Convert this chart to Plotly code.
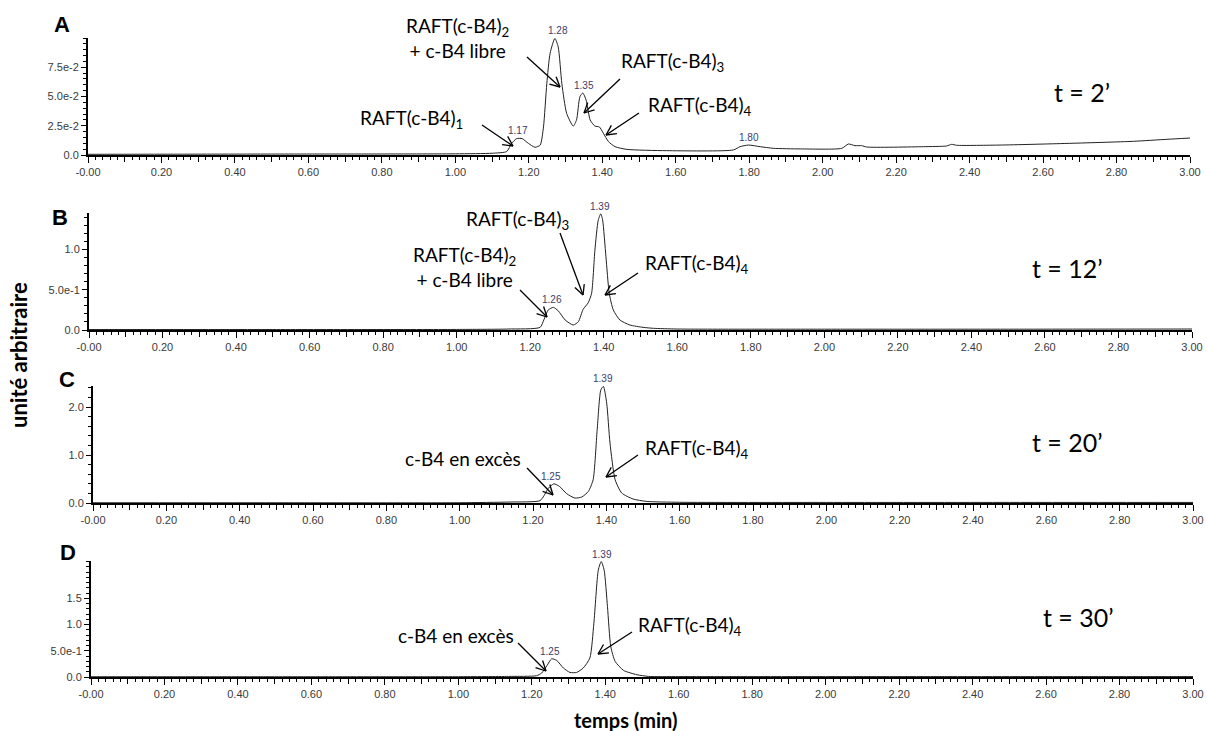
import math
import plotly.graph_objects as go

W, H = 1207, 731

# ---------------- data ----------------
time_A = [0.00, 0.50, 1.00, 1.10, 1.14, 1.153, 1.167, 1.182, 1.199, 1.217, 1.231, 1.24, 1.249,
          1.258, 1.271, 1.28, 1.29, 1.303, 1.321, 1.33, 1.339, 1.347, 1.356, 1.367, 1.38, 1.392,
          1.403, 1.417, 1.435, 1.467, 1.575, 1.757, 1.775, 1.798, 1.83, 1.866, 1.94, 2.052, 2.07,
          2.088, 2.106, 2.12, 2.274, 2.337, 2.351, 2.365, 2.483, 2.665, 2.846, 2.937, 3.00]
signal_A = [0.0006, 0.0008, 0.0010, 0.0015, 0.003, 0.0099, 0.014, 0.014, 0.0099, 0.0066, 0.0085,
            0.024, 0.061, 0.087, 0.0996, 0.0925, 0.061, 0.0356, 0.0247, 0.030, 0.0497, 0.053,
            0.047, 0.030, 0.0247, 0.024, 0.0186, 0.0114, 0.0071, 0.0048, 0.0037, 0.0043, 0.0071,
            0.0085, 0.0071, 0.0057, 0.0052, 0.0057, 0.0094, 0.008, 0.008, 0.0068, 0.0071, 0.0077,
            0.0091, 0.0083, 0.0085, 0.0099, 0.0117, 0.0134, 0.0145]

time_B = [0.00, 0.50, 1.00, 1.14, 1.227, 1.237, 1.249, 1.263, 1.276, 1.295, 1.317, 1.331, 1.344,
          1.358, 1.367, 1.376, 1.385, 1.392, 1.397, 1.406, 1.415, 1.426, 1.444, 1.471, 1.507,
          1.535, 1.60, 2.00, 2.50, 3.00]
signal_B = [0.006, 0.006, 0.007, 0.012, 0.033, 0.124, 0.248, 0.281, 0.239, 0.124, 0.062, 0.103,
            0.256, 0.339, 0.455, 0.991, 1.36, 1.44, 1.363, 0.908, 0.455, 0.248, 0.124, 0.062,
            0.033, 0.021, 0.012, 0.010, 0.010, 0.012]

time_C = [0.00, 0.50, 1.00, 1.137, 1.219, 1.230, 1.242, 1.257, 1.272, 1.292, 1.314, 1.333, 1.351,
          1.364, 1.375, 1.385, 1.392, 1.401, 1.41, 1.424, 1.442, 1.473, 1.51, 1.60, 2.00, 2.50, 3.00]
signal_C = [0.005, 0.005, 0.006, 0.02, 0.048, 0.152, 0.31, 0.40, 0.347, 0.194, 0.104, 0.125,
            0.242, 0.485, 1.527, 2.36, 2.43, 2.083, 1.25, 0.485, 0.208, 0.083, 0.033, 0.015,
            0.012, 0.012, 0.012]

time_D = [0.00, 0.50, 1.00, 1.136, 1.213, 1.227, 1.241, 1.254, 1.268, 1.286, 1.304, 1.322, 1.34,
          1.358, 1.369, 1.381, 1.389, 1.397, 1.406, 1.415, 1.427, 1.45, 1.486, 1.518, 1.60, 2.00,
          2.50, 3.00]
signal_D = [0.005, 0.005, 0.006, 0.011, 0.025, 0.076, 0.214, 0.347, 0.315, 0.171, 0.087, 0.087,
            0.171, 0.36, 1.025, 2.036, 2.2, 2.036, 1.34, 0.58, 0.296, 0.125, 0.044, 0.011, 0.008,
            0.008, 0.008, 0.008]

# peak retention-time labels
peak_t_A = [1.17, 1.28, 1.35, 1.80]
peak_h_A = [0.0145, 0.0996, 0.053, 0.0085]
peak_t_B = [1.26, 1.39]
peak_h_B = [0.281, 1.44]
peak_t_C = [1.25, 1.39]
peak_h_C = [0.40, 2.43]
peak_t_D = [1.25, 1.39]
peak_h_D = [0.347, 2.2]

# axis ticks
x_label_ticks = [round(0.2 * k, 1) for k in range(16)]
x_label_text = ["-0.00" if k == 0 else f"{0.2 * k:.2f}" for k in range(16)]
x_mid_ticks = [round(0.1 + 0.2 * k, 1) for k in range(15)]

y_ticks_A = [0.0, 0.025, 0.05, 0.075]
y_text_A = ["0.0", "2.5e-2", "5.0e-2", "7.5e-2"]
y_ticks_B = [0.0, 0.5, 1.0]
y_text_B = ["0.0", "5.0e-1", "1.0"]
y_ticks_C = [0.0, 1.0, 2.0]
y_text_C = ["0.0", "1.0", "2.0"]
y_ticks_D = [0.0, 0.5, 1.0, 1.5]
y_text_D = ["0.0", "5.0e-1", "1.0", "1.5"]

y_range = [0.1, 1.45, 2.44, 2.21]
y_minor = [0.005, 0.1, 0.2, 0.1]

panel_letters = ["A", "B", "C", "D"]
time_labels = ["t = 2’", "t = 12’", "t = 20’", "t = 30’"]

# ---------------- layout geometry (pixels) ----------------
x_dom_px = [(88, 1190), (89, 1192), (93, 1193), (91, 1193)]
y_dom_px = [(38, 155), (213, 330), (386, 503), (561, 677)]


def px(x):
    return x / W


def py(y):
    return 1 - y / H


times = [time_A, time_B, time_C, time_D]
signals = [signal_A, signal_B, signal_C, signal_D]
yt = [y_ticks_A, y_ticks_B, y_ticks_C, y_ticks_D]
ytt = [y_text_A, y_text_B, y_text_C, y_text_D]
peaks = [(peak_t_A, peak_h_A), (peak_t_B, peak_h_B), (peak_t_C, peak_h_C), (peak_t_D, peak_h_D)]

fig = go.Figure()
tick_font = dict(family="Liberation Sans, Arial, sans-serif", size=11, color="#3a3a3a")
layout = dict(width=W, height=H, margin=dict(l=0, r=0, t=0, b=0, autoexpand=False),
              paper_bgcolor="white", plot_bgcolor="white", showlegend=False)

annotations = []
shapes = []
for i in range(4):
    sfx = "" if i == 0 else str(i + 1)
    mid_sfx = str(i + 5)
    fig.add_trace(go.Scatter(x=times[i], y=signals[i], mode="lines",
                             line=dict(color="#222222", width=1, shape="spline", smoothing=0.6),
                             xaxis="x" + sfx, yaxis="y" + sfx, hoverinfo="skip"))
    x0, x1 = x_dom_px[i]
    y0, y1 = y_dom_px[i]
    layout["xaxis" + sfx] = dict(
        domain=[px(x0), px(x1)], range=[0, 3.0], anchor="y" + sfx, automargin=False,
        tickmode="array", tickvals=x_label_ticks, ticktext=x_label_text,
        ticks="outside", ticklen=6, tickwidth=1, tickcolor="black",
        minor=dict(tickmode="linear", tick0=0, dtick=0.02, ticks="outside", ticklen=3,
                   tickwidth=1, tickcolor="black", showgrid=False),
        showline=True, linewidth=2, linecolor="black", showgrid=False, zeroline=False,
        tickfont=tick_font, fixedrange=True)
    # overlay axis carrying the unlabeled 0.1 ticks
    layout["xaxis" + mid_sfx] = dict(
        domain=[px(x0), px(x1)], range=[0, 3.0], anchor="y" + sfx, overlaying="x" + sfx,
        automargin=False, tickmode="array", tickvals=x_mid_ticks, showticklabels=False,
        ticks="outside", ticklen=6, tickwidth=1, tickcolor="black",
        showline=False, showgrid=False, zeroline=False, fixedrange=True)
    layout["yaxis" + sfx] = dict(
        domain=[py(y1), py(y0)], range=[0, y_range[i]], anchor="x" + sfx, automargin=False,
        tickmode="array", tickvals=yt[i], ticktext=ytt[i],
        ticks="outside", ticklen=5, tickwidth=1, tickcolor="black",
        minor=dict(tickmode="linear", tick0=0, dtick=y_minor[i], ticks="outside", ticklen=3,
                   tickwidth=1, tickcolor="black", showgrid=False),
        showline=True, linewidth=2, linecolor="black", showgrid=False, zeroline=False,
        tickfont=tick_font, fixedrange=True)
    # invisible trace so the overlay tick axis is drawn
    fig.add_trace(go.Scatter(x=[0, 3.0], y=[0, 0], mode="lines", line=dict(width=0),
                             opacity=0, xaxis="x" + mid_sfx, yaxis="y" + sfx, hoverinfo="skip"))
    # peak labels
    for t, h in zip(*peaks[i]):
        annotations.append(dict(x=t, y=h, xref="x" + sfx, yref="y" + sfx, text=f"{t:.2f}",
                                showarrow=False, yanchor="bottom", yshift=0,
                                font=dict(family="Liberation Sans, Arial", size=10, color="#3b3b6b")))

label_font = dict(family="Lato, sans-serif", size=19, color="black")
big_font = dict(family="Lato, sans-serif", size=25, color="black")

# panel letters
for (lx, ly), letter in zip([(62, 24), (60, 218), (67, 379), (68, 552)], panel_letters):
    annotations.append(dict(x=px(lx), y=py(ly), xref="paper", yref="paper", text=f"<b>{letter}</b>",
                            showarrow=False, xanchor="center", yanchor="middle",
                            font=dict(family="Liberation Sans, Arial", size=22, color="black")))

# time labels
for (lx, ly), tl in zip([(1082, 92), (1067, 268), (1067, 442), (1078, 617)], time_labels):
    annotations.append(dict(x=px(lx), y=py(ly), xref="paper", yref="paper", text=tl,
                            showarrow=False, xanchor="center", yanchor="middle", font=big_font))

# compound labels
comp_labels = [
    ((411, 119), "RAFT(c-B4)<sub>1</sub>"),
    ((457, 38), "RAFT(c-B4)<sub>2</sub><br>+ c-B4 libre"),
    ((672, 62), "RAFT(c-B4)<sub>3</sub>"),
    ((700, 106), "RAFT(c-B4)<sub>4</sub>"),
    ((517, 220), "RAFT(c-B4)<sub>3</sub>"),
    ((464, 267), "RAFT(c-B4)<sub>2</sub><br>+ c-B4 libre"),
    ((697, 264), "RAFT(c-B4)<sub>4</sub>"),
    ((463, 458), "c-B4 en excès"),
    ((697, 449), "RAFT(c-B4)<sub>4</sub>"),
    ((456, 635), "c-B4 en excès"),
    ((690, 626), "RAFT(c-B4)<sub>4</sub>"),
]
for (lx, ly), txt in comp_labels:
    annotations.append(dict(x=px(lx), y=py(ly), xref="paper", yref="paper", text=txt,
                            showarrow=False, xanchor="center", yanchor="middle", font=label_font))

# arrows (tail -> tip, in pixels), drawn as thin lines with an open V head
arrows = [
    ((482, 125), (513, 146)),
    ((527, 57), (560, 87)),
    ((620, 79), (584, 113)),
    ((639, 113), (606, 135)),
    ((560, 233), (583, 295)),
    ((520, 290), (547, 317)),
    ((638, 273), (605, 295)),
    ((527, 468), (553, 495)),
    ((638, 455), (606, 477)),
    ((518, 643), (546, 671)),
    ((632, 632), (598, 654)),
]
HEAD_LEN = 11
HEAD_ANG = math.radians(27)
line_style = dict(color="black", width=1.3)
for (tx, ty), (hx, hy) in arrows:
    shapes.append(dict(type="line", xref="paper", yref="paper",
                       x0=px(tx), y0=py(ty), x1=px(hx), y1=py(hy), line=line_style))
    ang = math.atan2(hy - ty, hx - tx)
    for s in (1, -1):
        a = ang + math.pi + s * HEAD_ANG
        ex, ey = hx + HEAD_LEN * math.cos(a), hy + HEAD_LEN * math.sin(a)
        shapes.append(dict(type="line", xref="paper", yref="paper",
                           x0=px(hx), y0=py(hy), x1=px(ex), y1=py(ey), line=line_style))

# axis titles
annotations.append(dict(x=px(18), y=py(355), xref="paper", yref="paper",
                        text="<b>unité arbitraire</b>", textangle=-90, showarrow=False,
                        xanchor="center", yanchor="middle",
                        font=dict(family="Lato, sans-serif", size=22, color="black")))
annotations.append(dict(x=px(625), y=py(720), xref="paper", yref="paper",
                        text="<b>temps (min)</b>", showarrow=False,
                        xanchor="center", yanchor="middle",
                        font=dict(family="Lato, sans-serif", size=20, color="black")))

layout["annotations"] = annotations
layout["shapes"] = shapes
fig.update_layout(**layout)
fig.write_html("out.html", config={"displayModeBar": False},
               post_script="document.body.style.margin='0';document.body.style.padding='0';"
                           "document.body.style.overflow='hidden';")
